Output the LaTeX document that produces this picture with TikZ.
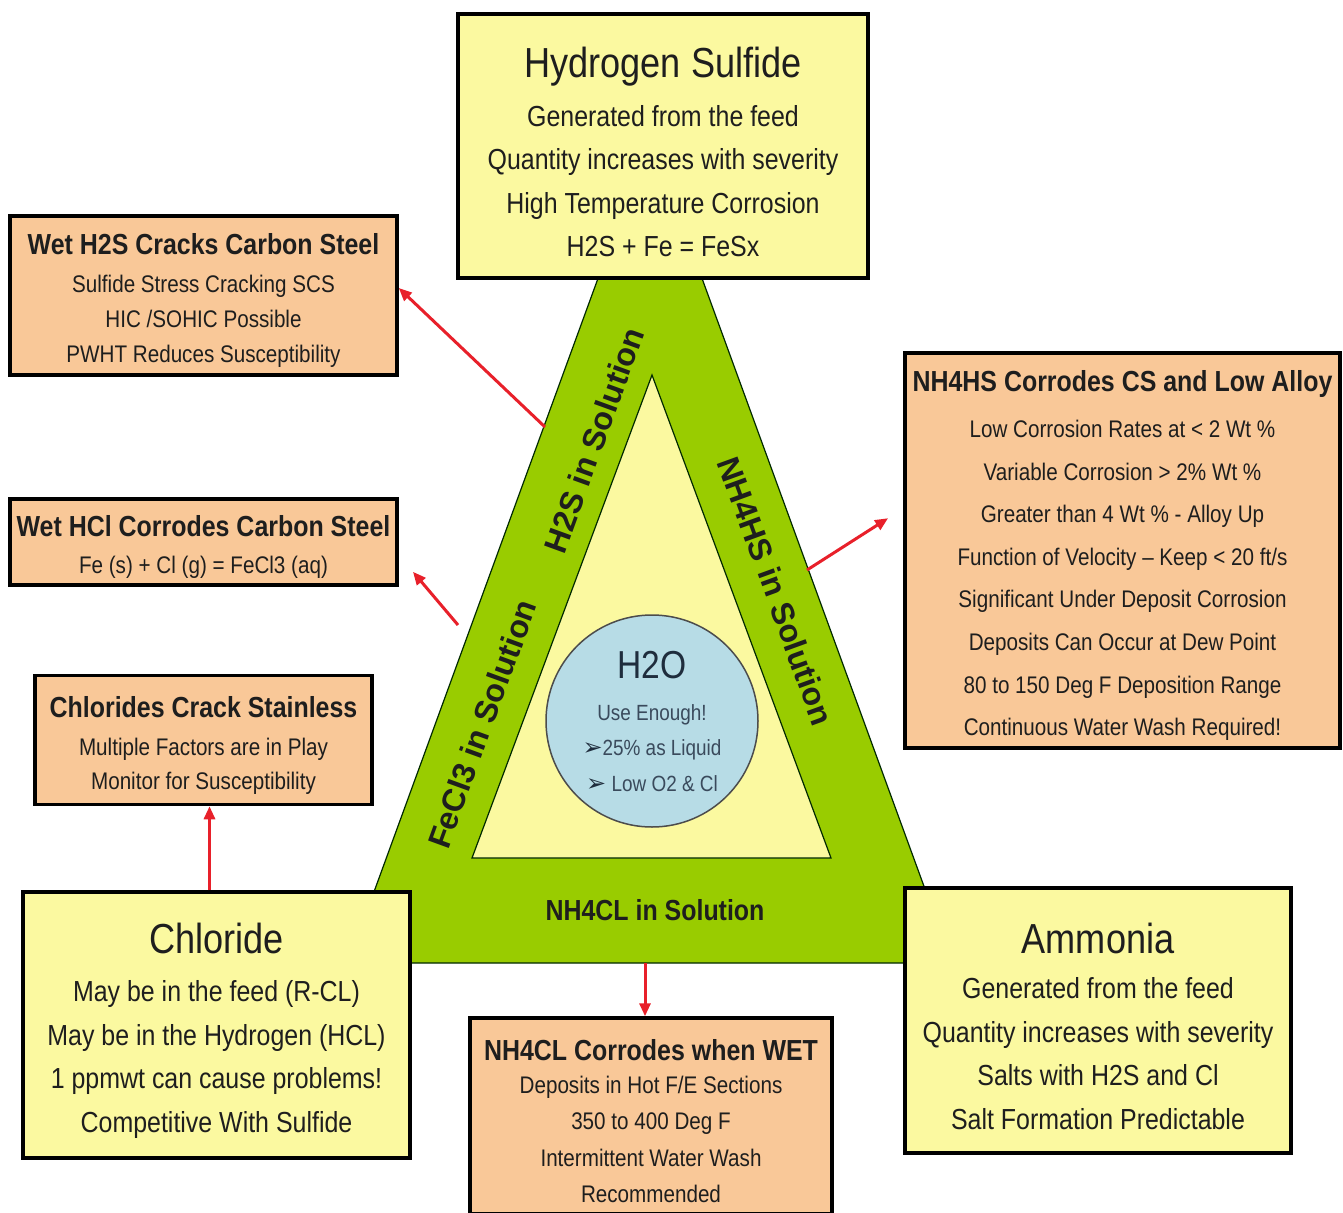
\documentclass[tikz,border=0pt]{standalone}
\usepackage{fontspec}
\setmainfont{Liberation Sans}[FakeStretch=0.86]
\newfontfamily\edgefont{Liberation Sans}
\newfontfamily\bulletfont{DejaVu Sans}
\usetikzlibrary{calc,positioning,arrows.meta}
\definecolor{paleyellow}{HTML}{FBF9A0}
\definecolor{peach}{HTML}{F9C898}
\definecolor{leafgreen}{HTML}{99CC00}
\definecolor{waterblue}{HTML}{B7DCE6}
\definecolor{linkred}{HTML}{E8202A}
\definecolor{inktext}{HTML}{1E1E1E}
\definecolor{navytext}{HTML}{1F2D3D}
\definecolor{slatetext}{HTML}{3A4A5C}
\newcommand{\bigname}[1]{{\fontsize{42}{44}\selectfont\rule{0pt}{42pt}#1}}
\newcommand{\boxhead}[1]{{\bfseries\fontsize{29}{35}\selectfont\rule{0pt}{31pt}#1}}
\newcommand{\tick}{{\color{navytext}\bulletfont\fontsize{24}{24}\selectfont ➢}}
\tikzstyle{source} = [rectangle, draw=black, line width=3.5pt, fill=paleyellow, text=inktext, align=center, inner sep=0pt, font=\fontsize{29}{43.5}\selectfont]
\tikzstyle{effect} = [rectangle, draw=black, line width=3.5pt, fill=peach, text=inktext, align=center, inner sep=0pt, font=\fontsize{24}{35}\selectfont]
\tikzstyle{link} = [line width=3pt, draw=linkred, -{Triangle[length=13pt,width=11pt]}]
\tikzset{
  triedge/.style={draw=black!60!green!40!black, line width=1.2pt},
  edgetag/.style={text=inktext, font=\edgefont\bfseries\fontsize{32}{33}\selectfont, inner sep=0pt},
  pool/.style={circle, draw=black!70, line width=1.5pt, fill=waterblue, minimum size=212pt, inner sep=0pt, align=center, text=slatetext, font=\fontsize{22}{35.5}\selectfont}
}

\begin{document}
\begin{tikzpicture}[x=1pt, y=-1pt]
    \useasboundingbox (0,0) rectangle (1343,1212);
    \fill[white] (0,0) rectangle (1343,1212);

    % the green triangle and the water in the middle
    \coordinate (apex) at (650,136);
    \coordinate (baseL) at (348,963);
    \coordinate (baseR) at (952,963);
    \draw[triedge, fill=leafgreen] (apex) -- (baseR) -- (baseL) -- cycle;
    \draw[triedge, fill=paleyellow] (652,375) -- (831,858) -- (472,858) -- cycle;
    \node (water)[pool] at (652,721) {{\color{navytext}\fontsize{39}{40}\selectfont H2O}\\[6.5pt]
      Use Enough!\\ \tick25\% as Liquid\\ \tick\ Low O2 \& Cl};

    \node (h2sSol)[edgetag, rotate=70] at (594,440) {H2S in Solution};
    \node (fe3Sol)[edgetag, rotate=70] at (482,724) {FeCl3 in Solution};
    \node (nhsSol)[edgetag, rotate=-70] at (776,591) {NH4HS in Solution};
    \node (nclSol)[text=inktext, font=\bfseries\fontsize{29}{30}\selectfont] at (655,910) {NH4CL in Solution};

    % sources
    \node (hs)[source, minimum width=410pt, minimum height=264pt] at (663,146) {\bigname{Hydrogen Sulfide}\\[5.5pt]
      Generated from the feed\\ Quantity increases with severity\\ High Temperature Corrosion\\ H2S + Fe = FeSx};
    \node (cl)[source, minimum width=387pt, minimum height=266pt] at (216.5,1025) {\bigname{Chloride}\\[4.5pt]
      May be in the feed (R-CL)\\ May be in the Hydrogen (HCL)\\ 1 ppmwt can cause problems!\\ Competitive With Sulfide};
    \node (am)[source, minimum width=386pt, minimum height=265pt] at (1098,1020.5) {\bigname{Ammonia}\\[2pt]
      Generated from the feed\\ Quantity increases with severity\\ Salts with H2S and Cl\\ Salt Formation Predictable};

    % effects
    \node (wh2s)[effect, minimum width=387pt, minimum height=159pt] at (203.5,295.5) {\boxhead{Wet H2S Cracks Carbon Steel}\\[3pt]
      Sulfide Stress Cracking SCS\\ HIC /SOHIC Possible\\ PWHT Reduces Susceptibility};
    \node (whcl)[effect, minimum width=387pt, minimum height=86pt] at (203.5,542) {\boxhead{Wet HCl Corrodes Carbon Steel}\\[2pt]
      Fe (s) + Cl (g) = FeCl3 (aq)};
    \node (ccs)[effect, minimum width=337pt, minimum height=129pt] at (203.5,740) {\boxhead{Chlorides Crack Stainless}\\[3pt]
      Multiple Factors are in Play\\[-1pt] Monitor for Susceptibility};
    \node (nh4cl)[effect, minimum width=362pt, minimum height=196pt, font=\fontsize{24}{36.5}\selectfont] at (651,1116) {\boxhead{NH4CL Corrodes when WET}\\[-3.5pt]
      Deposits in Hot F/E Sections\\ 350 to 400 Deg F\\ Intermittent Water Wash\\ Recommended};
    \node (nh4hs)[effect, minimum width=435pt, minimum height=395pt, font=\fontsize{24}{42.6}\selectfont] at (1122.5,550.5) {\boxhead{NH4HS Corrodes CS and Low Alloy}\\[3.4pt]
      Low Corrosion Rates at < 2 Wt \%\\ Variable Corrosion > 2\% Wt \%\\ Greater than 4 Wt \% - Alloy Up\\
      Function of Velocity -- Keep < 20 ft/s\\ Significant Under Deposit Corrosion\\ Deposits Can Occur at Dew Point\\
      80 to 150 Deg F Deposition Range\\ Continuous Water Wash Required!};

    % red arrows
    \coordinate (h2sFoot) at (545,427);
    \coordinate (fe3Foot) at (458,625);
    \coordinate (hsFoot) at (807,570);
    \coordinate (clFoot) at (645,963);
    \draw[link] (h2sFoot) -- ([yshift=7.5pt]wh2s.east);
    \draw[link, shorten >=22pt] (fe3Foot) -- ([yshift=-13pt]whcl.east);
    \draw[link] ([xshift=-7pt]cl.north) -- ([xshift=-7pt]cl.north |- ccs.south);
    \draw[link] (clFoot) -- (clFoot |- nh4cl.north);
    \draw[link, shorten >=18pt] (hsFoot) -- ([yshift=42pt]nh4hs.west);

\end{tikzpicture}
\end{document}
